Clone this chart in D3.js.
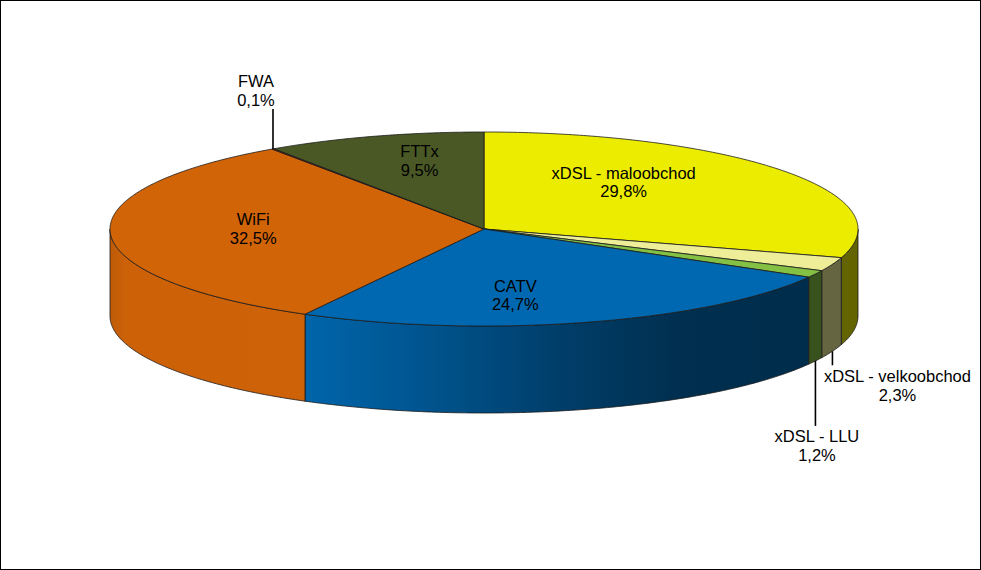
<!DOCTYPE html>
<html>
<head>
<meta charset="utf-8">
<script src="https://cdn.jsdelivr.net/npm/d3@7"></script>
<style>
  body { margin: 0; background: #fff; }
  svg text { font-family: "Liberation Sans", Arial, sans-serif; font-size: 16.5px; fill: #000; }
</style>
</head>
<body>
<div id="pie"></div>
<script>
// data
var categories = ["xDSL - maloobchod", "xDSL - velkoobchod", "xDSL - LLU", "CATV", "WiFi", "FWA", "FTTx"];
var shares = [29.8, 2.3, 1.2, 24.7, 32.5, 0.1, 9.5];

// styles
var topColors = ["#ecec00", "#eeee99", "#84c044", "#0068b0", "#d26408", "#b81800", "#4a5826"];

var width = 981, height = 570;
var cx = 484, cy = 229, rx = 374, ry = 97, depth = 87;

// label placement: inside ones are nudged from the projected mid point,
// outside ones hang on a leader line (len < 0 = upward)
var labelLayout = [
  { inside: true, dx: -56, dy: -13 },
  { inside: false, from: "bottom", len: 14, dx: 65, dy: 16.7 },
  { inside: false, from: "bottom", len: 65, dx: 1.5, dy: 16.3 },
  { inside: true, dx: -35, dy: 2 },
  { inside: true, dx: 12, dy: -7 },
  { inside: false, from: "top", len: -40, dx: -17, dy: -21.7 },
  { inside: true, dx: 7, dy: -11.4 }
];

var svg = d3.select("#pie")
  .append("svg")
  .attr("width", width)
  .attr("height", height);

svg.append("rect")
  .attr("x", 0.5).attr("y", 0.5)
  .attr("width", width - 1).attr("height", height - 1)
  .style("fill", "#fff")
  .style("stroke", "#000");

var x = d3.scaleLinear().domain([-1, 1]).range([cx - rx, cx + rx]);
var y = d3.scaleLinear().domain([-1, 1]).range([cy - ry, cy + ry]);

function proj(a, r, dz) {
  return [x(r * Math.sin(a)), y(-r * Math.cos(a)) + (dz || 0)];
}

function arcPoints(a0, a1, dz) {
  var n = Math.max(2, Math.ceil((a1 - a0) / 0.01));
  return d3.range(n + 1).map(function(i) { return proj(a0 + (a1 - a0) * i / n, 1, dz); });
}

var line = d3.line();
var fmt = d3.format(".1f");

var arcs = d3.pie()
  .sort(null)
  .value(function(d) { return d; })(shares);

// side shading, brighter at the left front, dark toward the right
var shade = d3.scaleLinear()
  .domain([cx - rx, cx - rx + 15, cx - 185, cx - 65, cx + 75, cx + 195, cx + rx])
  .range([0.9, 0.97, 0.98, 0.82, 0.6, 0.45, 0.42]);

function scaled(c, k) {
  var col = d3.rgb(c);
  return d3.rgb(col.r * k, col.g * k, col.b * k).formatHex();
}

var defs = svg.append("defs");
arcs.forEach(function(d, i) {
  var g = defs.append("linearGradient")
    .attr("id", "side" + i)
    .attr("gradientUnits", "userSpaceOnUse")
    .attr("x1", cx - rx).attr("x2", cx + rx)
    .attr("y1", 0).attr("y2", 0);
  shade.domain().forEach(function(px) {
    g.append("stop")
      .attr("offset", (px - (cx - rx)) / (2 * rx))
      .attr("stop-color", scaled(topColors[i], shade(px)));
  });
});

// side walls of the front half
arcs.forEach(function(d, i) {
  var s = Math.max(d.startAngle, Math.PI / 2);
  var e = Math.min(d.endAngle, Math.PI * 3 / 2);
  if (s >= e) return;
  var pts = arcPoints(s, e, 0).concat(arcPoints(s, e, depth).reverse());
  svg.append("path")
    .attr("d", line(pts) + "Z")
    .style("fill", "url(#side" + i + ")")
    .style("stroke", "#1a1a1a")
    .style("stroke-width", 0.8)
    .style("stroke-linejoin", "round");
});

// top faces
arcs.forEach(function(d, i) {
  var pts = [[cx, cy]].concat(arcPoints(d.startAngle, d.endAngle, 0));
  svg.append("path")
    .attr("d", line(pts) + "Z")
    .style("fill", topColors[i])
    .style("stroke", "#1a1a1a")
    .style("stroke-width", 0.8)
    .style("stroke-linejoin", "round");
});

// labels
arcs.forEach(function(d, i) {
  var mid = (d.startAngle + d.endAngle) / 2;
  var L = labelLayout[i];
  var tx, ty;
  if (L.inside) {
    var p = proj(mid, 0.65, 0);
    tx = p[0] + L.dx; ty = p[1] + L.dy;
  } else {
    var a = proj(mid, 1, L.from === "bottom" ? depth : 0);
    var end = a[1] + L.len;
    svg.append("line")
      .attr("x1", a[0]).attr("y1", a[1])
      .attr("x2", a[0]).attr("y2", end)
      .style("stroke", "#000")
      .style("stroke-width", 1.6);
    tx = a[0] + L.dx; ty = end + L.dy;
  }
  var t = svg.append("text")
    .attr("text-anchor", "middle")
    .attr("x", tx).attr("y", ty);
  t.append("tspan").attr("x", tx).text(categories[i]);
  t.append("tspan").attr("x", tx).attr("dy", 18.6)
    .text(fmt(shares[i]).replace(".", ",") + "%");
});
</script>
</body>
</html>
